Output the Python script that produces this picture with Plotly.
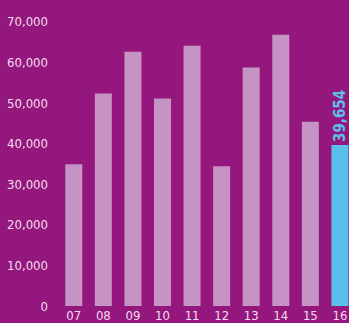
import plotly.graph_objects as go

# Annual totals, 2007-2016
years = ["07", "08", "09", "10", "11", "12", "13", "14", "15", "16"]
values = [34900, 52300, 62600, 51100, 64100, 34400, 58700, 66800, 45400, 39654]
y_ticks = [0, 10000, 20000, 30000, 40000, 50000, 60000, 70000]

bg = "#94177d"
bar_pink = "#c594c5"
bar_blue = "#5bc0eb"
text_col = "#f4dcef"
font_family = "DejaVu Sans Condensed, DejaVu Sans, sans-serif"

colors = [bar_pink] * (len(years) - 1) + [bar_blue]
labels = [""] * (len(years) - 1) + [f"{values[-1]:,}"]

fig = go.Figure(
    go.Bar(
        x=years,
        y=values,
        marker=dict(color=colors, line=dict(width=0)),
        text=labels,
        textposition="outside",
        textangle=-90,
        constraintext="none",
        cliponaxis=False,
        textfont=dict(family=font_family, size=15, color=bar_blue, weight="bold"),
        hoverinfo="skip",
    )
)

fig.update_layout(
    width=349,
    height=323,
    margin=dict(l=59, r=0, t=0, b=17.3),
    paper_bgcolor=bg,
    plot_bgcolor=bg,
    bargap=0.425,
    showlegend=False,
    font=dict(family=font_family, size=13, color=text_col),
)

fig.update_xaxes(
    type="category",
    range=[-0.5, 9.307],
    automargin=False,
    showgrid=False,
    zeroline=False,
    showline=False,
    ticks="",
    tickfont=dict(family=font_family, size=13, color=text_col),
)

fig.update_yaxes(
    range=[0, 75350],
    automargin=False,
    tickvals=y_ticks,
    tickformat=",",
    showgrid=False,
    zeroline=False,
    showline=False,
    ticks="",
    ticklabelstandoff=10,
    tickfont=dict(family=font_family, size=13, color=text_col),
)

fig.write_html("out.html")
